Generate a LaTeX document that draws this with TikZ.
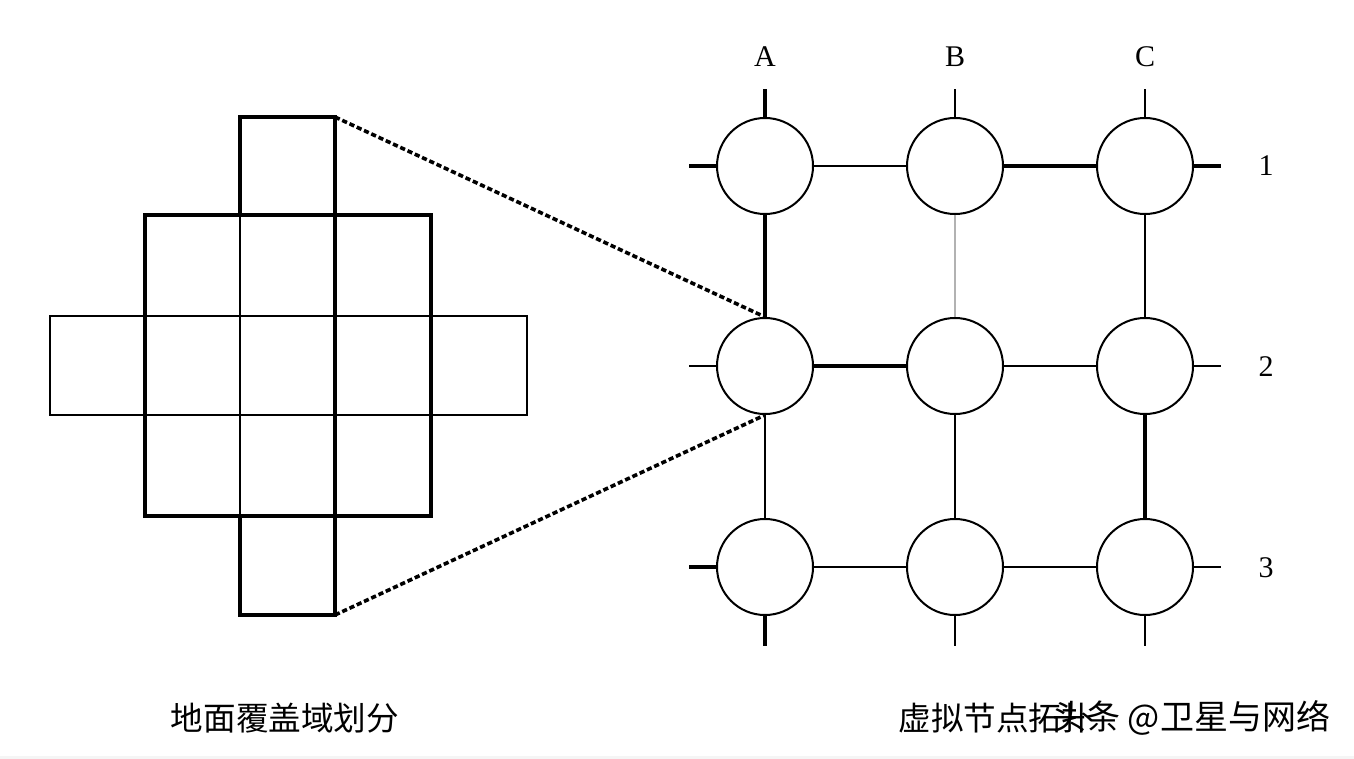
\documentclass[tikz,border=0pt]{standalone}
\usepackage{fontspec}
\setmainfont{Liberation Serif}
\newfontfamily\cjk{Noto Sans CJK SC}
\tikzset{
	cell/.style={draw,circle,minimum size=48pt,inner sep=0pt,line width=1pt},
	heavy/.style={line width=1.6pt},
	medium/.style={line width=1.1pt},
	light/.style={line width=0.6pt},
	zoomline/.style={line width=1.8pt,dash pattern=on 2.6pt off 1.4pt},
	tag/.style={font=\fontsize{15}{18}\selectfont},
	caption/.style={font=\cjk\fontsize{16.3}{19}\selectfont}
}
\begin{document}
\begin{tikzpicture}[x=0.5pt,y=-0.5pt]
	\useasboundingbox (0,0) rectangle (1354,759);
	\fill[gray!8] (0,756) rectangle (1354,759);
	\path (240,117) coordinate (TL)
	++ (95,0) coordinate (TR)
	(240,615) coordinate (BL)
	++ (95,0) coordinate (BR);
	\draw[heavy] (TL) rectangle (335,215);
	\draw[heavy] (145,215) rectangle (431,516);
	\draw[heavy] (240,516) rectangle (BR);
	\draw[light] (50,316) rectangle (527,415);
	\draw[medium] (TL) -- (BL);
	\draw[heavy] (TR) -- (BR);
	\node[cell] (a1) at (765,166) {};
	\node[cell] (b1) at (955,166) {};
	\node[cell] (c1) at (1145,166) {};
	\node[cell] (a2) at (765,366) {};
	\node[cell] (b2) at (955,366) {};
	\node[cell] (c2) at (1145,366) {};
	\node[cell] (a3) at (765,567) {};
	\node[cell] (b3) at (955,567) {};
	\node[cell] (c3) at (1145,567) {};
	\draw[zoomline] (TR) -- (a2.north);
	\draw[zoomline] (BR) -- (a2.south);
	\draw[light] (a1) -- (b1);
	\draw[heavy] (b1) -- (c1);
	\draw[heavy] (a2) -- (b2);
	\draw[light] (b2) -- (c2);
	\draw[medium] (a3) -- (b3);
	\draw[medium] (b3) -- (c3);
	\draw[heavy] (a1) -- (a2);
	\draw[medium] (a2) -- (a3);
	\draw[light,gray!60] (b1) -- (b2);
	\draw[medium] (b2) -- (b3);
	\draw[medium] (c1) -- (c2);
	\draw[heavy] (c2) -- (c3);
	\path (765,89) coordinate (at)
	(955,89) coordinate (bt)
	(1145,89) coordinate (ct)
	(765,646) coordinate (ab)
	(955,646) coordinate (bb)
	(1145,646) coordinate (cb)
	(689,166) coordinate (l1)
	(689,366) coordinate (l2)
	(689,567) coordinate (l3)
	(1221,166) coordinate (r1)
	(1221,366) coordinate (r2)
	(1221,567) coordinate (r3);
	\draw[heavy] (a1) -- (at);
	\draw[medium] (b1) -- (bt);
	\draw[medium] (c1) -- (ct);
	\draw[heavy] (a3) -- (ab);
	\draw[light] (b3) -- (bb);
	\draw[light] (c3) -- (cb);
	\draw[heavy] (a1) -- (l1);
	\draw[light] (a2) -- (l2);
	\draw[heavy] (a3) -- (l3);
	\draw[heavy] (c1) -- (r1);
	\draw[light] (c2) -- (r2);
	\draw[medium] (c3) -- (r3);
	\node[tag] (colA) at (765,57) {A};
	\node[tag] (colB) at (955,57) {B};
	\node[tag] (colC) at (1145,57) {C};
	\node[tag] (row1) at (1266,166) {1};
	\node[tag] (row2) at (1266,367) {2};
	\node[tag] (row3) at (1266,568) {3};
	\node[caption] (cover) at (285,718) {地面覆盖域划分};
	\node[caption,anchor=west,inner sep=0pt] (topo) at (898,718) {虚拟节点拓扑};
	\node[font=\cjk\fontsize{17}{20}\selectfont,anchor=west,inner sep=0pt] (mark) at (1052,718) {头条 @卫星与网络};
\end{tikzpicture}
\end{document}
